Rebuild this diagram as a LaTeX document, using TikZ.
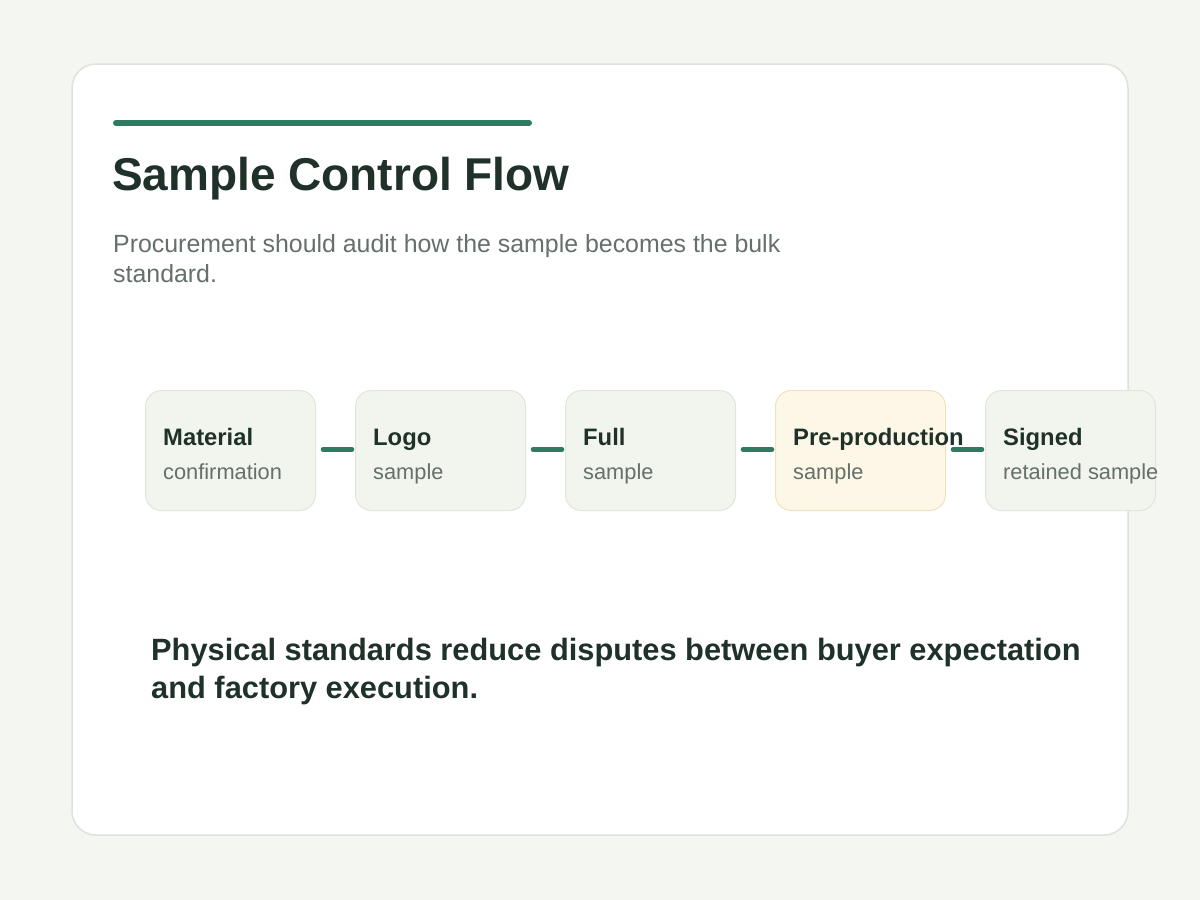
\documentclass[tikz,border=0pt]{standalone}
\usepackage{fontspec}
\setmainfont{Liberation Sans}
\definecolor{bg}{HTML}{F4F6F1}
\definecolor{cardborder}{HTML}{DDE3DA}
\definecolor{accent}{HTML}{2F7A60}
\definecolor{ink}{HTML}{1F3128}
\definecolor{muted}{HTML}{65706A}
\definecolor{boxfill}{HTML}{F2F5EE}
\definecolor{boxline}{HTML}{DFE6DA}
\definecolor{warmfill}{HTML}{FDF7E7}
\definecolor{warmline}{HTML}{EFE2BF}
\tikzset{
  stepbox/.style={draw=boxline, fill=boxfill, line width=1pt, rounded corners=16pt,
    minimum width=170pt, minimum height=120pt, anchor=north west, inner sep=0pt},
  warmbox/.style={stepbox, draw=warmline, fill=warmfill},
  boxtitle/.style={anchor=base west, inner sep=0pt, text=ink, font=\fontsize{23.8}{28}\selectfont\bfseries},
  boxsub/.style={anchor=base west, inner sep=0pt, text=muted, font=\fontsize{21.8}{26}\selectfont},
  link/.style={draw=accent, line width=4.5pt, line cap=round},
}
\begin{document}
\begin{tikzpicture}[x=1pt,y=-1pt]
\useasboundingbox[fill=bg] (0,0) rectangle (1200,900);
\draw[fill=white, draw=cardborder, line width=1.5pt, rounded corners=24pt] (72,64) rectangle (1128,835);
\coordinate (barL) at (116,123);
\coordinate (barR) at (529,123);
\draw[accent, line width=6pt, line cap=round] (barL) -- (barR);
\node[anchor=base west, inner sep=0pt, text=ink, font=\fontsize{46}{52}\selectfont\bfseries] (title) at (112,190) {Sample Control Flow};
\node[anchor=base west, inner sep=0pt, text=muted, font=\fontsize{24.9}{30}\selectfont, align=left] (sub) at (113,282) {Procurement should audit how the sample becomes the bulk\\standard.};
% boxes
\node[stepbox] (b1) at (145,390) {};
\node[stepbox] (b2) at (355,390) {};
\node[stepbox] (b3) at (565,390) {};
\node[warmbox] (b4) at (775,390) {};
\node[stepbox] (b5) at (985,390) {};
\foreach \n/\x/\t/\s in {b1/163/Material/confirmation, b2/373/Logo/sample, b3/583/Full/sample, b4/793/Pre-production/sample, b5/1003/Signed/retained sample}{
  \node[boxtitle] (\n t) at (\x,445) {\t};
  \node[boxsub] (\n s) at (\x,479) {\s};
}
\foreach \a/\b in {b1/b2, b2/b3, b3/b4, b4/b5}{
  \draw[link] ([xshift=7pt,yshift=1pt]\a.east) -- ([xshift=-3pt,yshift=1pt]\b.west);
}
\node[anchor=base west, inner sep=0pt, text=ink, font=\fontsize{30.8}{38}\selectfont\bfseries, align=left] (note) at (151,698) {Physical standards reduce disputes between buyer expectation\\and factory execution.};
\end{tikzpicture}
\end{document}
